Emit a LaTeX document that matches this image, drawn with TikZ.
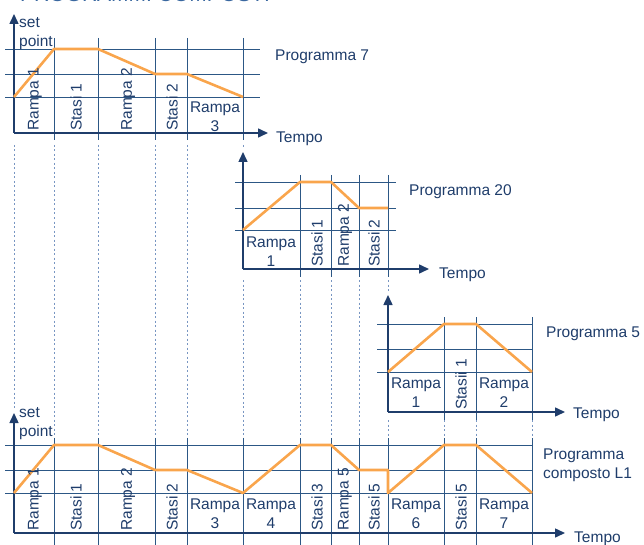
\documentclass[tikz,border=0pt]{standalone}
\usepackage{fontspec}
\setmainfont{Liberation Sans}
\usetikzlibrary{arrows.meta,positioning}
\definecolor{navy}{HTML}{1F3D6B}
\definecolor{gridblue}{HTML}{2C5785}
\definecolor{dotblue}{HTML}{7896C2}
\definecolor{curve}{HTML}{F9A54C}
\definecolor{titleblue}{HTML}{3A68A0}
\tikzset{
  axis/.style={draw=navy,line width=1.5pt,-{Triangle[length=10pt,width=9pt]}},
  gridline/.style={draw=gridblue,line width=0.9pt},
  guide/.style={draw=dotblue,line width=0.9pt,dash pattern=on 2pt off 2.5pt},
  setcurve/.style={draw=curve,line width=2.6pt,line join=round},
  lab/.style={text=navy,font=\fontsize{15.5}{19}\selectfont,inner sep=0pt},
  vlab/.style={lab,rotate=90,anchor=west},
  titletext/.style={text=titleblue,font=\fontsize{21}{24}\selectfont,inner sep=0pt}
}

\begin{document}
\begin{tikzpicture}[x=1pt,y=-1pt]
\useasboundingbox (0,0) rectangle (644,545);
\node[titletext,anchor=base west] (titolo) at (20,2){PROGRAMMI COMPOSTI};

% dotted guides between the programs
\foreach \x/\a/\b in {14/145/408,54/145/438,98/145/438,155/145/438,187/145/438,243/145/149,
  243/280/438,300/280/438,331/280/438,359/280/438,388/280/292,
  388/420/438,444/420/438,476/420/438,532/420/438}{\draw[guide] (\x,\a)--(\x,\b);}

% Programma 7
\foreach \y in {49,74,97}{\draw[gridline] (5,\y)--(260,\y);}
\foreach \x in {54,98,155,187,243}{\draw[gridline] (\x,38)--(\x,140);}
\draw[axis] (14,133)--(14,14);
\draw[axis] (14,133)--(268,133);
\draw[setcurve] (14,97)--(54,49)--(98,49)--(155,74)--(187,74)--(243,97);
\node[lab,align=left,anchor=west] (sp7) at (19,34){set\\point};
\foreach \x/\t [count=\i] in {35/Rampa 1,76/Stasi 1,128/Rampa 2,172/Stasi 2}{\node[vlab,name=a7-\i] at (\x,131){\t};}
\node[lab,align=center] (r7) at (215,117){Rampa\\3};
\node[lab,anchor=west] (p7) at (275,57){Programma 7};
\node[lab,anchor=west] (t7) at (276,139){Tempo};

% Programma 20
\foreach \y in {182,208,230}{\draw[gridline] (235,\y)--(396,\y);}
\foreach \x in {300,331,359,388}{\draw[gridline] (\x,175)--(\x,277);}
\draw[axis] (243,269)--(243,152);
\draw[axis] (243,269)--(429,269);
\draw[setcurve] (243,230)--(300,182)--(331,182)--(359,208)--(388,208);
\node[lab,align=center] (r20) at (271,252){Rampa\\1};
\foreach \x/\t [count=\i] in {317/Stasi 1,345/Rampa 2,374/Stasi 2}{\node[vlab,name=a20-\i] at (\x,267){\t};}
\node[lab,anchor=west] (p20) at (409,192){Programma 20};
\node[lab,anchor=west] (t20) at (439,275){Tempo};

% Programma 5
\foreach \y in {324,349,372}{\draw[gridline] (377,\y)--(532,\y);}
\foreach \x in {444,476,532}{\draw[gridline] (\x,317)--(\x,420);}
\draw[axis] (388,412)--(388,295);
\draw[axis] (388,412)--(565,412);
\draw[setcurve] (388,372)--(444,324)--(476,324)--(532,372);
\node[lab,align=center] (r5a) at (416,393){Rampa\\1};
\node[vlab] (s5) at (461,410){Stasii 1};
\node[lab,align=center] (r5b) at (504,393){Rampa\\2};
\node[lab,anchor=west] (p5) at (546,334){Programma 5};
\node[lab,anchor=west] (t5) at (573,415){Tempo};

% Programma composto L1
\foreach \y in {445,470,493}{\draw[gridline] (5,\y)--(533,\y);}
\foreach \x in {54,98,155,187,243,300,331,359,388,444,476,532}{\draw[gridline] (\x,438)--(\x,550);}
\draw[axis] (14,533)--(14,413);
\draw[axis] (14,533)--(565,533);
\draw[setcurve] (14,493)--(54,445)--(98,445)--(155,470)--(187,470)--(243,493)--(300,445)--(331,445)
  --(359,470)--(388,470)--(388,493)--(444,445)--(476,445)--(532,493);
\node[lab,align=left,anchor=west] (spL) at (19,424){set\\point};
\foreach \x/\t [count=\i] in {35/Rampa 1,76/Stasi 1,128/Rampa 2,172/Stasi 2,317/Stasi 3,345/Rampa 5,374/Stasi 5,461/Stasi 5}{\node[vlab,name=aL-\i] at (\x,531){\t};}
\foreach \x/\n in {215/3,271/4,416/6,504/7}{\node[lab,align=center,name=rL-\n] at (\x,514){Rampa\\\n};}
\node[lab,align=left,anchor=west] (pL) at (543,465){Programma\\composto L1};
\node[lab,anchor=west] (tL) at (574,539){Tempo};
\end{tikzpicture}
\end{document}
